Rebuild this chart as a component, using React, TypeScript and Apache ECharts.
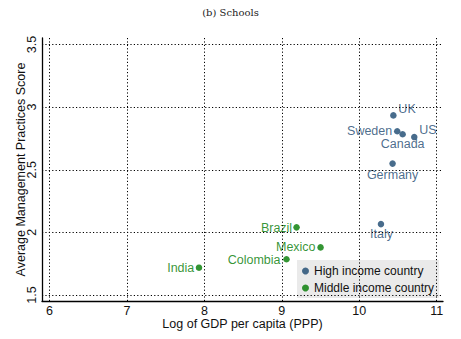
import React, { useEffect, useRef } from "react";
import * as echarts from "echarts";

const highCountries = ["UK", "Sweden", "Canada", "US", "Germany", "Italy"];
const highGdp = [10.44, 10.49, 10.56, 10.71, 10.43, 10.28];
const highScore = [2.934, 2.807, 2.783, 2.761, 2.549, 2.066];

const midCountries = ["Brazil", "Mexico", "Colombia", "India"];
const midGdp = [9.19, 9.5, 9.06, 7.93];
const midScore = [2.04, 1.88, 1.785, 1.718];

const xTicks = [6, 7, 8, 9, 10, 11];
const yTicks = [1.5, 2, 2.5, 3, 3.5];

const NAVY = "#1a476f";
const GREEN = "#007a00";
const FONT = "'Liberation Sans', Arial, sans-serif";

// label placement relative to point: [align, dx, dy]
const labelPlace: Record<string, [string, number, number]> = {
  UK: ["left", 5, -6.7],
  US: ["left", 5, -6.7],
  Sweden: ["right", -5, 0],
  Canada: ["center", 0, 9.8],
  Germany: ["center", 0, 10.9],
  Italy: ["center", 0.5, 9.8],
  Brazil: ["right", -4.4, 0.7],
  Mexico: ["right", -5, -0.3],
  Colombia: ["right", -6, 0.3],
  India: ["right", -4.7, 0.3],
};

function pts(names: string[], xs: number[], ys: number[], color: string) {
  return names.map((n, i) => {
    const p = labelPlace[n];
    return {
      name: n,
      value: [xs[i], ys[i]],
      label: {
        show: true,
        formatter: n,
        position: "inside",
        align: p[0],
        verticalAlign: "middle",
        offset: [p[1], p[2]],
        color,
        fontFamily: FONT,
        fontSize: 12.5,
      },
    };
  });
}

const gridStyle = { color: "#000", width: 1, type: [1.2, 2.2] as any };

export default function App() {
  const ref = useRef<HTMLDivElement>(null);
  useEffect(() => {
    const chart = echarts.init(ref.current!, null, { renderer: "svg" });
    chart.setOption({
      animation: false,
      backgroundColor: "#fff",
      title: {
        text: "(b) Schools",
        left: "center",
        top: 2,
        textStyle: {
          fontFamily: "'DejaVu Serif', serif",
          fontSize: 10,
          fontWeight: "normal",
          color: "#222",
        },
      },
      grid: { left: 42, right: 18, top: 38, bottom: 38, containLabel: false },
      xAxis: {
        type: "value",
        min: 5.903,
        max: 11.081,
        name: "Log of GDP per capita (PPP)",
        nameLocation: "middle",
        nameGap: 16,
        nameMoveOverlap: false,
        nameTextStyle: { fontFamily: FONT, fontSize: 12.5, color: "#111", lineHeight: 13 },
        axisLine: { show: true, lineStyle: { color: "#000", width: 1.3 } },
        axisTick: { show: false, customValues: xTicks },
        axisLabel: {
          customValues: xTicks,
          margin: 3,
          fontFamily: FONT,
          fontSize: 12.5,
          lineHeight: 13,
          color: "#111",
        },
        splitLine: { show: false },
      },
      yAxis: {
        type: "value",
        min: 1.452,
        max: 3.552,
        name: "Average Management Practices Score",
        nameLocation: "middle",
        nameGap: 15,
        nameMoveOverlap: false,
        nameTextStyle: { fontFamily: FONT, fontSize: 12.5, color: "#111" },
        axisLine: { show: true, lineStyle: { color: "#000", width: 1.3 } },
        axisTick: { show: false, customValues: yTicks },
        axisLabel: {
          customValues: yTicks,
          rotate: 90,
          margin: 4,
          fontFamily: FONT,
          fontSize: 12.5,
          color: "#111",
          formatter: (v: number) => String(v),
        },
        splitLine: { show: false },
      },
      legend: {
        data: ["High income country", "Middle income country"],
        orient: "vertical",
        left: 297,
        top: 260,
        z: 5,
        backgroundColor: "#eaeaea",
        padding: [4, 5, 3, 5],
        itemGap: 3,
        itemWidth: 7,
        itemHeight: 7,
        icon: "circle",
        textStyle: { fontFamily: FONT, fontSize: 12, color: "#111", lineHeight: 14 },
      },
      series: [
        {
          type: "line",
          name: "grid",
          data: [],
          z: 1,
          silent: true,
          markLine: {
            silent: true,
            symbol: "none",
            label: { show: false },
            lineStyle: gridStyle,
            data: [
              ...xTicks.map((v) => ({ xAxis: v })),
              ...yTicks.map((v) => ({ yAxis: v })),
            ],
          },
        },
        {
          type: "scatter",
          name: "High income country",
          symbol: "circle",
          symbolSize: 6.5,
          itemStyle: { color: NAVY },
          z: 3,
          data: pts(highCountries, highGdp, highScore, NAVY),
        },
        {
          type: "scatter",
          name: "Middle income country",
          symbol: "circle",
          symbolSize: 6.5,
          itemStyle: { color: GREEN },
          z: 3,
          data: pts(midCountries, midGdp, midScore, GREEN),
        },
      ],
    });
    return () => chart.dispose();
  }, []);
  return <div ref={ref} style={{ width: 461, height: 339, position: "absolute", left: 0, top: 0 }} />;
}
